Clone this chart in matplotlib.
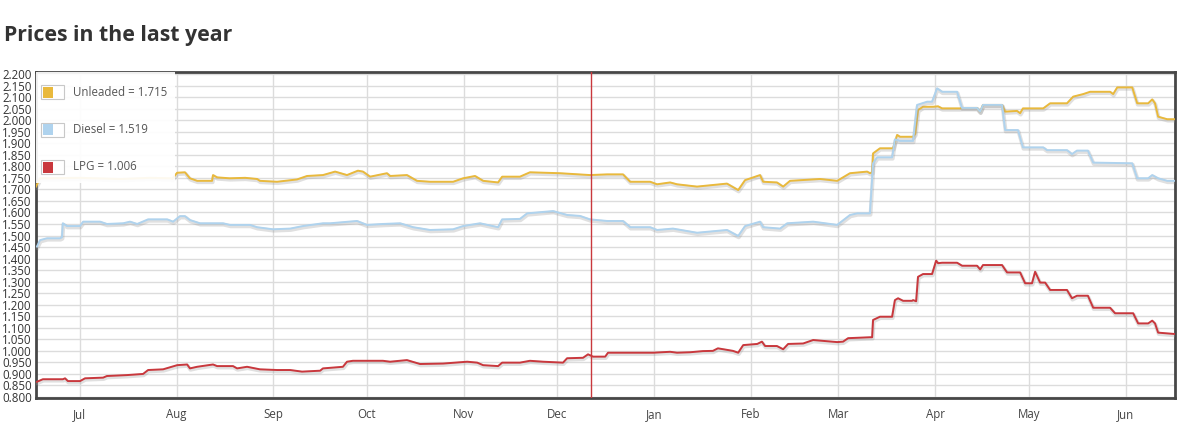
import numpy as np
import pandas as pd
import matplotlib
matplotlib.use('Agg')
import matplotlib.pyplot as plt
import matplotlib.dates as mdates
import matplotlib.patheffects as pe
from matplotlib.patches import Rectangle

# Day offsets are counted from the first day shown (17 Jun 2021)
start = pd.Timestamp('2021-06-17')

unleaded_days = [0, 1.3, 14, 27, 36.5, 43.2, 43.6, 45.2, 47.7, 49.3, 51.6, 56.4, 56.7, 58, 62, 67, 70.8,
                 71.7, 77.2, 83.6, 86.8, 91.9, 95.8, 99.6, 103.1, 104.7, 107, 112.4, 113.4, 118.8, 122,
                 126.2, 133.6, 136.8, 140.6, 143.2, 148, 149.3, 155, 158.2, 167.8, 177.4, 182.9, 188,
                 190.3, 196.7, 198.9, 203.1, 205.3, 211.7, 221.3, 224.9, 227.1, 231.9, 232.9, 237.3,
                 239.3, 241.5, 251.1, 256.6, 260.7, 266.2, 267.1, 267.8, 268.1, 270.3, 274.5, 275.8,
                 276.7, 280.9, 281.6, 282.5, 284.1, 287.3, 288.9, 290.2, 296, 296.6, 301.4, 302.4, 303.3,
                 309.4, 310.4, 314.2, 315.2, 316.1, 322.6, 324.8, 330.2, 332.2, 335.4, 337.6, 344, 345,
                 346.3, 351.1, 352.7, 356.2, 357.5, 358.4, 359.4, 362.3, 364.8]
unleaded = [1.712, 1.748, 1.750, 1.745, 1.750, 1.748, 1.745, 1.772, 1.774, 1.748, 1.737, 1.737, 1.762,
            1.752, 1.748, 1.750, 1.745, 1.737, 1.733, 1.743, 1.758, 1.762, 1.777, 1.762, 1.781, 1.777,
            1.755, 1.770, 1.758, 1.762, 1.737, 1.733, 1.733, 1.748, 1.758, 1.737, 1.730, 1.755, 1.755,
            1.774, 1.770, 1.762, 1.765, 1.765, 1.733, 1.733, 1.722, 1.730, 1.722, 1.712, 1.725, 1.697,
            1.740, 1.762, 1.733, 1.730, 1.712, 1.737, 1.745, 1.737, 1.770, 1.777, 1.770, 1.774, 1.856,
            1.878, 1.878, 1.936, 1.928, 1.928, 1.940, 2.044, 2.058, 2.058, 2.060, 2.051, 2.051, 2.053,
            2.053, 2.037, 2.066, 2.066, 2.037, 2.040, 2.030, 2.051, 2.051, 2.073, 2.073, 2.102, 2.113,
            2.123, 2.123, 2.113, 2.142, 2.142, 2.073, 2.073, 2.090, 2.073, 2.015, 2.004, 2.004]

diesel_days = [0.3, 1.3, 3.5, 7.7, 8.3, 8.6, 9.9, 14.1, 15.1, 20.5, 22.7, 27.9, 30.1, 32.4, 35.9, 42,
               43.9, 46.1, 47.7, 49.3, 52.5, 59.9, 62.1, 68.5, 70.8, 75.9, 81.4, 85.5, 91.9, 94.2, 102.8,
               106, 111.1, 116.6, 120.8, 126.2, 133.6, 136.8, 142.2, 148, 149.3, 155, 157.3, 165.6,
               170.1, 174.2, 177.4, 182.9, 188, 190.3, 196.7, 198.9, 204, 211.7, 221.3, 224.9, 227.1,
               231.9, 232.9, 238.3, 240.6, 248.9, 256.6, 260.7, 263, 267.1, 268.1, 269.4, 274.2, 275.1,
               276.7, 280.9, 282.2, 285.4, 287, 288.6, 290.2, 295, 296.6, 301.4, 302.4, 303.3, 309.4,
               310.4, 314.5, 316.1, 322.6, 323.8, 330.2, 331.8, 333.4, 336.9, 338.6, 351.1, 352.7,
               356.2, 357.5, 359.4, 362.3, 364.8]
diesel = [1.452, 1.480, 1.488, 1.488, 1.492, 1.553, 1.541, 1.541, 1.560, 1.560, 1.550, 1.553, 1.560,
          1.550, 1.570, 1.570, 1.560, 1.584, 1.584, 1.567, 1.553, 1.553, 1.546, 1.546, 1.536, 1.527,
          1.530, 1.541, 1.553, 1.553, 1.563, 1.546, 1.550, 1.553, 1.536, 1.524, 1.527, 1.541, 1.553,
          1.536, 1.570, 1.572, 1.596, 1.606, 1.589, 1.585, 1.570, 1.563, 1.563, 1.536, 1.536, 1.524,
          1.530, 1.512, 1.524, 1.498, 1.541, 1.560, 1.536, 1.530, 1.553, 1.560, 1.546, 1.589, 1.596,
          1.596, 1.813, 1.839, 1.839, 1.917, 1.910, 1.910, 2.066, 2.080, 2.080, 2.138, 2.123, 2.123,
          2.053, 2.053, 2.037, 2.066, 2.066, 1.957, 1.957, 1.882, 1.882, 1.870, 1.870, 1.853, 1.868,
          1.868, 1.816, 1.813, 1.748, 1.748, 1.762, 1.748, 1.737, 1.737]

lpg_days = [0.3, 2.2, 6.7, 8.6, 9.3, 10.2, 14.1, 15.7, 21.5, 22.7, 29.1, 34.3, 35.9, 40.7, 45.2, 48.4,
            49.3, 51.6, 56.7, 58, 63.1, 64.4, 67.6, 71.7, 77.2, 81.4, 85.2, 91, 91.9, 98.3, 99.6, 101.5,
            111.1, 113.4, 118.8, 123, 130.4, 138.1, 141.3, 143.2, 148, 149.3, 155, 158.2, 162.4, 168.8,
            170.1, 175.2, 176.8, 178.4, 182.3, 183.2, 197.7, 203.1, 205.3, 209.5, 213.6, 216.8, 218.4,
            223.2, 224.9, 226.5, 231, 232.5, 233.5, 237.3, 239.3, 240.9, 245.7, 248.9, 256.6, 258.5,
            260.1, 267.1, 267.8, 268.1, 270.3, 274.2, 275.1, 276.1, 277.7, 280.6, 280.9, 281.9, 282.5,
            284.1, 287, 288.3, 288.9, 290.2, 295, 296.6, 301.4, 302.4, 303.3, 309.4, 311, 315.2, 316.8,
            319, 320, 321.6, 323.2, 324.8, 330.2, 331.8, 333.4, 336.9, 338.6, 344, 345.6, 351.4, 353,
            356.2, 357.5, 358.4, 359.4, 364.8]
lpg = [0.866, 0.877, 0.877, 0.877, 0.881, 0.869, 0.869, 0.881, 0.884, 0.891, 0.895, 0.900, 0.917, 0.920,
       0.938, 0.941, 0.924, 0.931, 0.941, 0.934, 0.934, 0.924, 0.931, 0.920, 0.917, 0.917, 0.910, 0.914,
       0.924, 0.931, 0.953, 0.957, 0.957, 0.953, 0.960, 0.943, 0.945, 0.953, 0.949, 0.938, 0.934, 0.949,
       0.949, 0.957, 0.953, 0.949, 0.968, 0.970, 0.985, 0.975, 0.975, 0.992, 0.992, 0.996, 0.992, 0.994,
       0.999, 1.000, 1.011, 1.000, 0.992, 1.025, 1.030, 1.040, 1.021, 1.021, 1.007, 1.030, 1.032, 1.047,
       1.038, 1.040, 1.055, 1.059, 1.059, 1.134, 1.148, 1.148, 1.220, 1.228, 1.217, 1.217, 1.220, 1.215,
       1.321, 1.333, 1.333, 1.391, 1.380, 1.382, 1.382, 1.369, 1.369, 1.353, 1.372, 1.372, 1.340, 1.340,
       1.293, 1.293, 1.343, 1.296, 1.296, 1.264, 1.264, 1.228, 1.239, 1.239, 1.187, 1.187, 1.163, 1.163,
       1.119, 1.119, 1.131, 1.119, 1.079, 1.073]

legend_labels = ['Unleaded = 1.715', 'Diesel = 1.519', 'LPG = 1.006']
colors = ['#E9B93C', '#AFD3EE', '#C9383D']
cursor_day = 177.8
y_ticks = np.round(np.arange(0.8, 2.2001, 0.05), 3)


def to_dates(days):
    return start + pd.to_timedelta(np.array(days), unit='D')


plt.rcParams['font.family'] = ['Open Sans', 'DejaVu Sans']
fig = plt.figure(figsize=(12, 4.28), dpi=100)
fig.text(4 / 1200, 1 - 35 / 428, 'Prices in the last year', fontsize=15.3, fontweight='bold',
         color='#333333', va='center', ha='left')

ax = fig.add_axes([36 / 1200, 1 - 398 / 428, 1139 / 1200, 326 / 428])

# soft grey shadow under each line, like the original chart
shadow = [pe.SimpleLineShadow(offset=(0.4, -1.0), shadow_color='#999999', alpha=0.3, linewidth=2.8),
          pe.Normal()]
series = [(unleaded_days, unleaded), (diesel_days, diesel), (lpg_days, lpg)]
for (days, vals), c in zip(series, colors):
    ax.plot(to_dates(days), vals, color=c, lw=1.4, zorder=3, path_effects=shadow)

ax.axvline(to_dates([cursor_day])[0], color='#C9383D', lw=1, zorder=4)

ax.set_xlim(start, start + pd.Timedelta(days=364.8))
ax.set_ylim(0.7957, 2.2087)
ax.set_yticks(y_ticks)
ax.set_yticklabels([f'{v:.3f}' for v in y_ticks])
ax.xaxis.set_major_locator(mdates.MonthLocator())
ax.xaxis.set_major_formatter(mdates.DateFormatter('%b'))
ax.tick_params(axis='y', length=0, pad=3, labelsize=8.3, labelcolor='#333333')
ax.tick_params(axis='x', length=0, pad=7, labelsize=8.3, labelcolor='#444444')
ax.grid(True, color='#DCDCDC', lw=1, zorder=0)
for s in ax.spines.values():
    s.set_color('#474747')
    s.set_linewidth(2)


# legend area in pixel coordinates of the axes box
def fx(px):
    return (px - 36) / 1139


def fy(py):
    return (398 - py) / 326


ax.add_patch(Rectangle((0, fy(183)), fx(175), 1 - fy(183), transform=ax.transAxes,
                       facecolor='white', edgecolor='none', alpha=0.92, zorder=5))
for i, (lab, c) in enumerate(zip(legend_labels, colors)):
    yc = 92 + i * 37.5
    ax.add_patch(Rectangle((fx(41), fy(yc + 7)), fx(64) - fx(41), fy(yc - 7) - fy(yc + 7),
                           transform=ax.transAxes, facecolor='white', edgecolor='#C8C8C8',
                           lw=0.8, zorder=6))
    ax.add_patch(Rectangle((fx(42.5), fy(yc + 5.5)), fx(53) - fx(42.5), fy(yc - 5) - fy(yc + 5.5),
                           transform=ax.transAxes, facecolor=c, edgecolor='none', zorder=7))
    ax.text(fx(73), fy(yc), lab, transform=ax.transAxes, fontsize=8.3, color='#555555',
            va='center', ha='left', zorder=7)

fig.savefig('out.png', dpi=100)
